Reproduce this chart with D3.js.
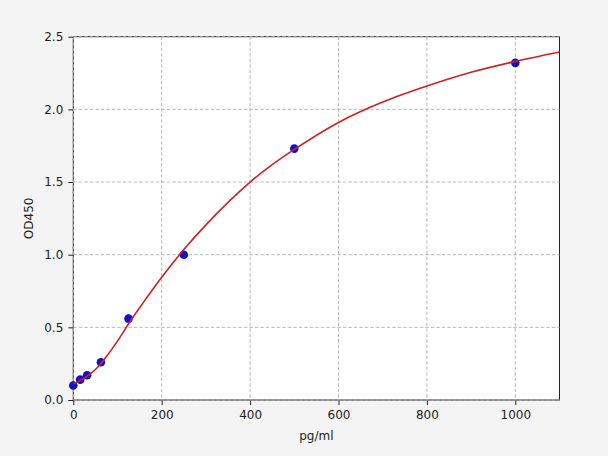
<!DOCTYPE html>
<meta charset="utf-8">
<script src="https://d3js.org/d3.v7.min.js"></script>
<style>
  body { margin: 0; background: #f4f4f4; }
  text { font-family: "DejaVu Sans", sans-serif; }
</style>
<div id="my_dataviz"></div>
<script>

// standard points (concentration, OD)
var conc = [0, 15.6, 31.25, 62.5, 125, 250, 500, 1000];
var od   = [0.10, 0.14, 0.17, 0.26, 0.56, 1.00, 1.73, 2.32];

// fitted curve
var curveX = [0, 25, 50, 75, 100, 125, 150, 200, 250, 300, 350, 400, 450, 500, 600, 700, 800, 900, 1000, 1100];
var curveY = [0.11, 0.15, 0.21, 0.30, 0.405, 0.525, 0.635, 0.845, 1.035, 1.205, 1.36, 1.50, 1.62, 1.725, 1.91, 2.05, 2.16, 2.255, 2.33, 2.395];

var xTicks = [0, 200, 400, 600, 800, 1000];
var yTicks = [0.0, 0.5, 1.0, 1.5, 2.0, 2.5];

var margin = {top: 36.7, right: 48.5, bottom: 56, left: 73.3},
    width = 608 - margin.left - margin.right,
    height = 456 - margin.top - margin.bottom;

var svg = d3.select("#my_dataviz")
  .append("svg")
    .attr("width", 608)
    .attr("height", 456)
  .append("g")
    .attr("transform", "translate(" + margin.left + "," + margin.top + ")");

svg.append("rect")
  .attr("width", width)
  .attr("height", height)
  .attr("fill", "white");

var x = d3.scaleLinear().domain([0, 1100]).range([0, width]);
var y = d3.scaleLinear().domain([0, 2.5]).range([height, 0]);

// axes
var xAxis = svg.append("g")
  .attr("transform", "translate(0," + height + ")")
  .call(d3.axisBottom(x).tickValues(xTicks).tickSize(5).tickPadding(5.5).tickFormat(d3.format("d")));
var yAxis = svg.append("g")
  .call(d3.axisLeft(y).tickValues(yTicks).tickSize(5).tickPadding(5).tickFormat(d3.format(".1f")));

[xAxis, yAxis].forEach(function(a) {
  a.select(".domain").remove();
  a.selectAll("text").attr("font-size", "12px").attr("fill", "#222");
  a.selectAll("line").attr("stroke", "#222");
});

// spines
svg.append("rect")
  .attr("width", width)
  .attr("height", height)
  .attr("fill", "none")
  .attr("stroke", "#222")
  .attr("stroke-width", 1);

// grid
svg.append("g").selectAll("line")
  .data(xTicks)
  .enter().append("line")
    .attr("x1", function(d) { return x(d); })
    .attr("x2", function(d) { return x(d); })
    .attr("y1", 0)
    .attr("y2", height)
    .attr("stroke", "#b0b0b0")
    .attr("stroke-width", 0.9)
    .attr("stroke-dasharray", "3.5,2");
svg.append("g").selectAll("line")
  .data(yTicks)
  .enter().append("line")
    .attr("x1", 0)
    .attr("x2", width)
    .attr("y1", function(d) { return y(d); })
    .attr("y2", function(d) { return y(d); })
    .attr("stroke", "#b0b0b0")
    .attr("stroke-width", 0.9)
    .attr("stroke-dasharray", "3.5,2");

// points
svg.append("g").selectAll("circle")
  .data(conc)
  .enter().append("circle")
    .attr("cx", function(d) { return x(d); })
    .attr("cy", function(d, i) { return y(od[i]); })
    .attr("r", 4.3)
    .attr("fill", "#1010c8");

// fitted line
var line = d3.line()
  .x(function(d) { return x(d); })
  .y(function(d, i) { return y(curveY[i]); })
  .curve(d3.curveCatmullRom);

svg.append("path")
  .datum(curveX)
  .attr("d", line)
  .attr("fill", "none")
  .attr("stroke", "#d02020")
  .attr("stroke-width", 1.6);

// labels
svg.append("text")
  .attr("x", width / 2)
  .attr("y", height + 40)
  .attr("text-anchor", "middle")
  .attr("font-size", "12px")
  .attr("fill", "#222")
  .text("pg/ml");

svg.append("text")
  .attr("transform", "translate(-40," + (height / 2) + ") rotate(-90)")
  .attr("text-anchor", "middle")
  .attr("font-size", "12px")
  .attr("fill", "#222")
  .text("OD450");

</script>
